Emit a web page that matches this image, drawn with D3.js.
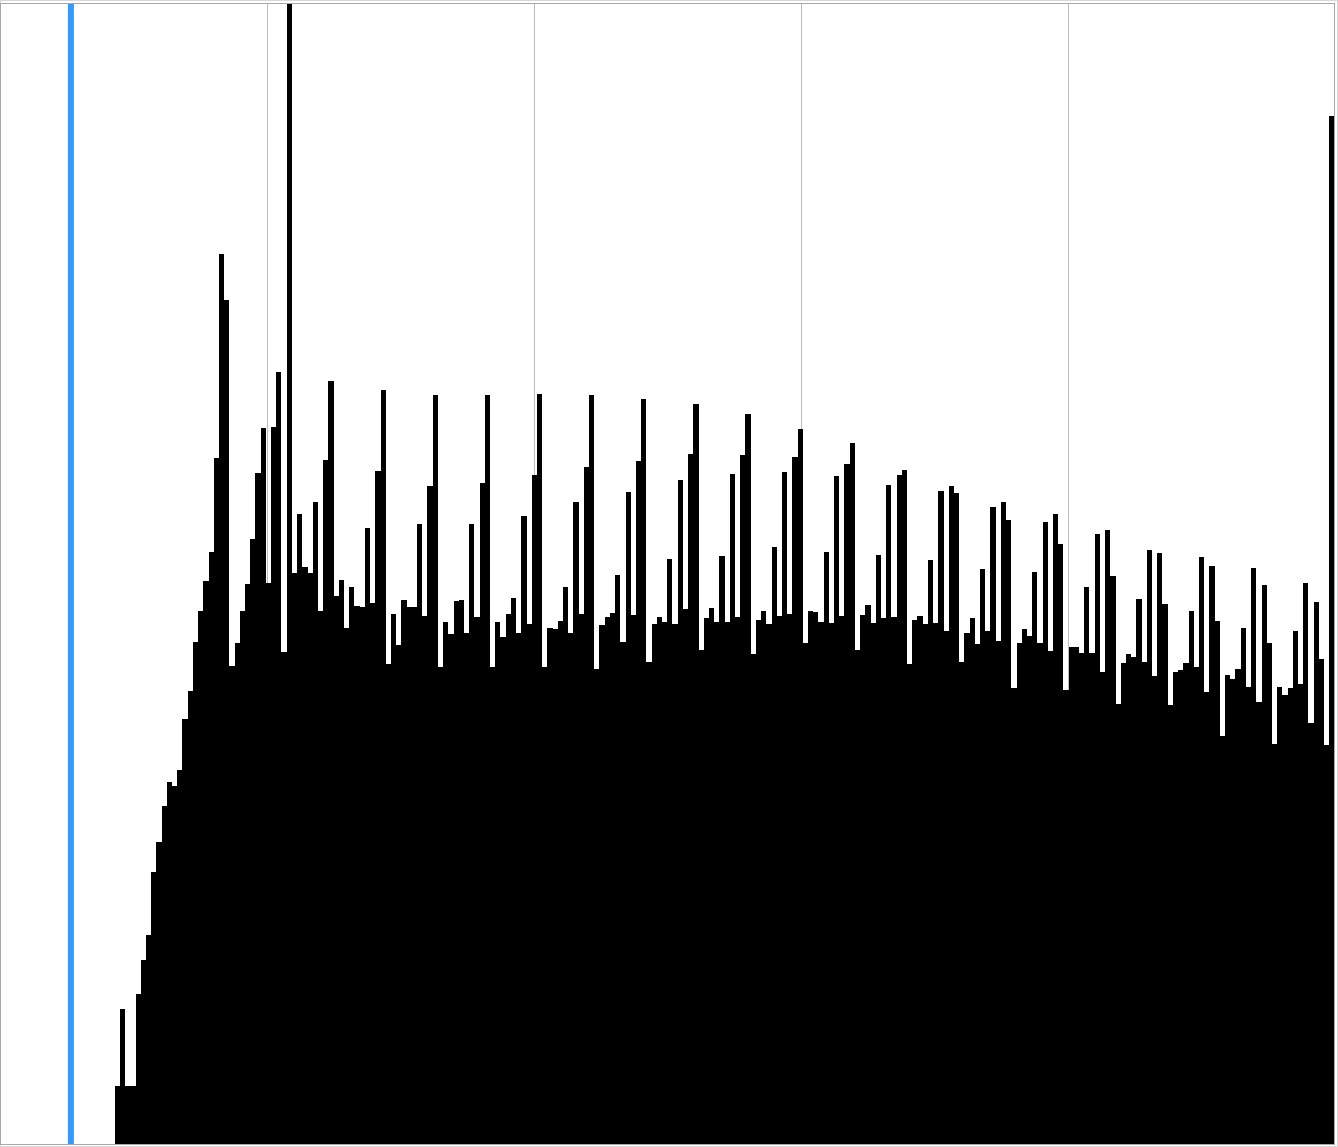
<!DOCTYPE html>
<html>
<head>
<meta charset="utf-8">
<script src="https://cdn.jsdelivr.net/npm/d3@7"></script>
<style>
html, body { margin: 0; padding: 0; background: #fff; }
svg { display: block; }
</style>
</head>
<body>
<script>
// Histogram of values 0..255 (bins with zero count omitted below firstBin)
const firstBin = 22;
const counts = [
  58, 135, 58, 58, 150, 184, 209, 272, 302, 338,          // 22-31
  362, 358, 374, 425, 453, 502, 533, 563, 592, 686,       // 32-41
  890, 844, 478, 501, 533, 560, 605, 671, 716, 561,       // 42-51
  717, 772, 492, 1140, 571, 630, 577, 571, 642, 533,      // 52-61
  684, 763, 548, 564, 516, 557, 538, 537, 616, 541,       // 62-71
  673, 754, 480, 530, 499, 544, 537, 537, 620, 528,       // 72-81
  658, 749, 477, 522, 510, 543, 544, 511, 620, 527,       // 82-91
  661, 749, 477, 522, 507, 530, 546, 511, 628, 520,       // 92-101
  669, 750, 477, 516, 515, 523, 557, 511, 642, 530,       // 102-111
  677, 749, 475, 519, 527, 531, 569, 502, 652, 529,       // 112-121
  683, 745, 482, 520, 527, 522, 585, 520, 664, 535,       // 122-131
  690, 740, 494, 526, 536, 522, 588, 522, 670, 527,       // 132-141
  689, 730, 490, 524, 533, 520, 597, 528, 672, 530,       // 142-151
  687, 715, 501, 533, 532, 522, 592, 521, 668, 528,       // 152-161
  680, 701, 494, 529, 539, 521, 589, 526, 659, 527,       // 162-171
  669, 674, 480, 524, 528, 520, 584, 521, 653, 513,       // 172-181
  658, 651, 482, 511, 526, 500, 575, 513, 637, 503,       // 182-191
  642, 624, 456, 501, 515, 508, 572, 501, 622, 493,       // 192-201
  630, 600, 454, 497, 497, 491, 557, 491, 610, 472,       // 202-211
  614, 568, 440, 481, 490, 487, 545, 482, 594, 468,       // 212-221
  591, 540, 439, 472, 474, 481, 533, 477, 587, 452,       // 222-231
  578, 523, 408, 469, 465, 475, 516, 457, 576, 442,       // 232-241
  559, 501, 400, 457, 449, 456, 513, 460, 561, 421,       // 242-251
  542, 485, 399, 1028                                     // 252-255
];
const xDomain = [0, 256];
const gridTicks = [51.2, 102.4, 153.6, 204.8];
const markerValue = 13.6;

const W = 1338, H = 1147;
const plot = { left: 0, top: 4, right: 1334.5, bottom: 1144 };

const data = counts.map((c, i) => ({ bin: firstBin + i, count: c }));

const svg = d3.select("body").append("svg")
  .attr("width", W).attr("height", H);

const x = d3.scaleLinear().domain(xDomain).range([plot.left, plot.right]);
const y = d3.scaleLinear().domain([0, d3.max(counts)]).range([plot.bottom, plot.top]);

// outer light frame
svg.append("rect")
  .attr("x", 0.5).attr("y", 0.5).attr("width", W - 1).attr("height", H - 1)
  .attr("fill", "none").attr("stroke", "#d8d8d8");

// grid lines via axis
const gridAxis = d3.axisBottom(x).tickValues(gridTicks)
  .tickSize(-(plot.bottom - plot.top + 1)).tickFormat("");
const g = svg.append("g")
  .attr("transform", `translate(0.5,${plot.bottom})`)
  .call(gridAxis);
g.select(".domain").remove();
g.selectAll(".tick line").attr("stroke", "#bdbdbd").attr("shape-rendering", "crispEdges");

// bars
svg.append("g").selectAll("rect").data(data).join("rect")
  .attr("x", d => x(d.bin))
  .attr("width", d => x(d.bin + 1) - x(d.bin))
  .attr("y", d => y(d.count))
  .attr("height", d => plot.bottom - y(d.count))
  .attr("fill", "#000")
  .attr("shape-rendering", "crispEdges");

// marker line
svg.append("line")
  .attr("x1", x(markerValue)).attr("x2", x(markerValue))
  .attr("y1", 3).attr("y2", plot.bottom)
  .attr("stroke", "#3399ff").attr("stroke-width", 6);

// plot border
svg.append("rect")
  .attr("x", 0.5).attr("y", 3.5)
  .attr("width", plot.right - 0.5).attr("height", plot.bottom + 0.5 - 3.5)
  .attr("fill", "none").attr("stroke", "#a8a8a8")
  .attr("shape-rendering", "crispEdges");
</script>
</body>
</html>
